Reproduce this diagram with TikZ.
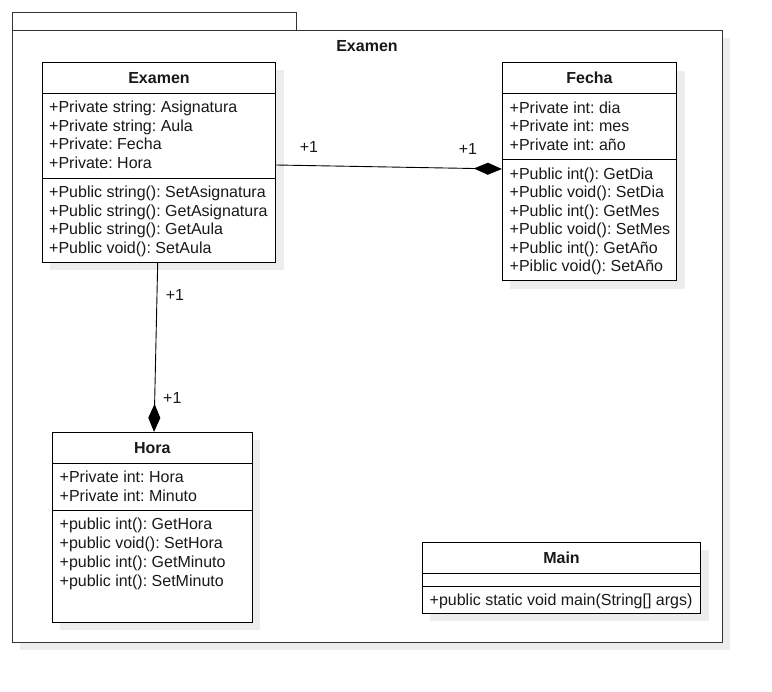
\documentclass[tikz,border=0pt]{standalone}
\usepackage{fontspec}
\setmainfont{Liberation Sans}
\frenchspacing
\usetikzlibrary{arrows.meta,shadows}
\tikzset{
  pkgbox/.style={draw=black!80, fill=white, inner sep=0pt, line width=0.9pt},
  classbox/.style={draw, fill=white, inner sep=0pt, line width=0.9pt,
    general shadow={shadow xshift=8pt, shadow yshift=-8pt, fill=black!7}},
  member/.style={anchor=west, inner sep=0pt, text height=11.5pt, text depth=0pt,
    font=\fontsize{16}{19}\selectfont, text=black!90},
  title/.style={member, anchor=center, font=\fontsize{16}{19}\selectfont\bfseries},
  mult/.style={member, anchor=center},
  compose/.style={draw, line width=0.9pt, -{Diamond[length=28pt, width=12pt]}}
}
\begin{document}
\begin{tikzpicture}[x=1pt, y=-1pt]
  \useasboundingbox (0,0) rectangle (772,692);
  % package
  \node[pkgbox, minimum width=284pt, minimum height=18pt] (tab) at (154,21) {};
  \node[pkgbox, minimum width=710pt, minimum height=612pt,
    general shadow={shadow xshift=8pt, shadow yshift=-8pt, fill=black!7}] (pkg) at (367,336) {};
  \node[title] (pkgname) at (367,45.7) {Examen};
  % classes
  \node[classbox, minimum width=233.4pt, minimum height=200pt] (examen) at (159,162.3) {};
  \node[classbox, minimum width=174.4pt, minimum height=218pt] (fecha) at (589.5,171.7) {};
  \node[classbox, minimum width=200pt, minimum height=190pt] (hora) at (152.3,527.3) {};
  \node[classbox, minimum width=278.4pt, minimum height=71pt] (main) at (561.5,577.8) {};
  % compartments
  \draw[line width=0.9pt] (42.3,93.7) -- (275.7,93.7) (42.3,178.7) -- (275.7,178.7);
  \draw[line width=0.9pt] (502.3,93.3) -- (676.7,93.3) (502.3,159.3) -- (676.7,159.3);
  \draw[line width=0.9pt] (52.3,463.3) -- (252.3,463.3) (52.3,510) -- (252.3,510);
  \draw[line width=0.9pt] (422.3,573.3) -- (700.7,573.3) (422.3,586) -- (700.7,586);
  % titles
  \node[title] (examenname) at (159,77.7) {Examen};
  \node[title] (fechaname) at (589.5,77.7) {Fecha};
  \node[title] (horaname) at (152.3,447.7) {Hora};
  \node[title] (mainname) at (561.5,557.7) {Main};
  % members
  \foreach \t [count=\i] in {+Private string: Asignatura, +Private string: Aula,
      +Private: Fecha, +Private: Hora}
    \node[member] at (49,106.7+18.65*\i-18.65) {\t};
  \foreach \t [count=\i] in {+Public string(): SetAsignatura, +Public string(): GetAsignatura,
      +Public string(): GetAula, +Public void(): SetAula}
    \node[member] at (49,191.7+18.6*\i-18.6) {\t};
  \foreach \t [count=\i] in {+Private int: dia, +Private int: mes, +Private int: año}
    \node[member] at (509.5,107.3+18.5*\i-18.5) {\t};
  \foreach \t [count=\i] in {+Public int(): GetDia, +Public void(): SetDia, +Public int(): GetMes,
      +Public void(): SetMes, +Public int(): GetAño, +Piblic void(): SetAño}
    \node[member] at (509.5,173.3+18.54*\i-18.54) {\t};
  \foreach \t [count=\i] in {+Private int: Hora, +Private int: Minuto}
    \node[member] at (59.5,476.7+19*\i-19) {\t};
  \foreach \t [count=\i] in {+public int(): GetHora, +public void(): SetHora,
      +public int(): GetMinuto, +public int(): SetMinuto}
    \node[member] at (59.5,523.3+19.1*\i-19.1) {\t};
  \node[member] (mainop) at (429.5,600) {+public static void main(String[] args)};
  % associations
  \path[compose] ([yshift=-2.7pt]examen.east) -- ([yshift=2.7pt]fecha.west);
  \path[compose] ([xshift=-1.3pt]examen.south) -- ([xshift=1.7pt]hora.north);
  \node[mult] (m1) at (309,146.7) {+1};
  \node[mult] (m2) at (468,149) {+1};
  \node[mult] (m3) at (175,295) {+1};
  \node[mult] (m4) at (172.3,397.3) {+1};
\end{tikzpicture}
\end{document}
